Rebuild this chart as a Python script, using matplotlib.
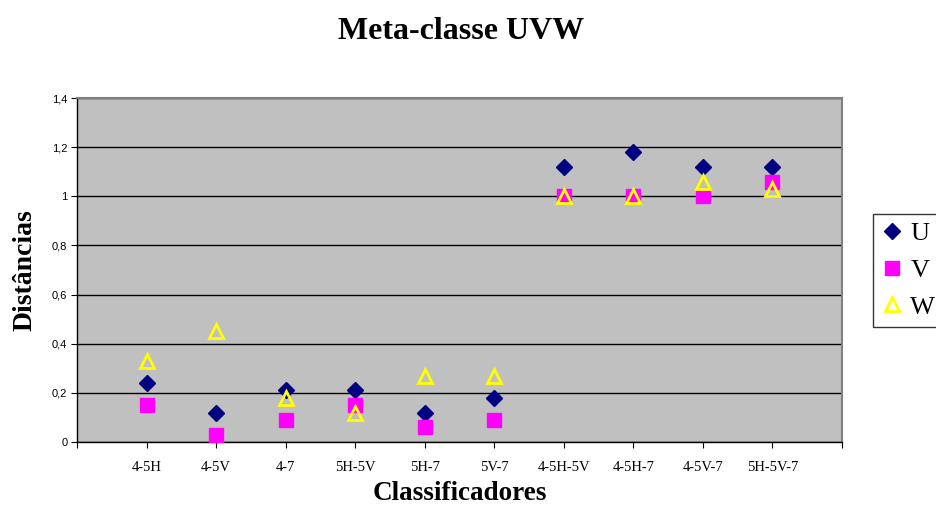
import matplotlib.pyplot as plt
import numpy as np

# data
categories = ['4-5H', '4-5V', '4-7', '5H-5V', '5H-7', '5V-7',
              '4-5H-5V', '4-5H-7', '4-5V-7', '5H-5V-7']
u_vals = [0.24, 0.12, 0.21, 0.21, 0.12, 0.18, 1.12, 1.18, 1.12, 1.12]
v_vals = [0.15, 0.03, 0.09, 0.15, 0.06, 0.09, 1.00, 1.00, 1.00, 1.06]
w_vals = [0.33, 0.45, 0.18, 0.12, 0.27, 0.27, 1.00, 1.00, 1.06, 1.03]
y_ticks = [0, 0.2, 0.4, 0.6, 0.8, 1.0, 1.2, 1.4]
y_labels = ['0', '0,2', '0,4', '0,6', '0,8', '1', '1,2', '1,4']

serif = 'Liberation Serif'
sans = 'Liberation Sans'

fig = plt.figure(figsize=(9.36, 5.08), dpi=100)
ax = fig.add_axes([0.0823, 0.1299, 0.8173, 0.6771])
ax.set_facecolor('#c0c0c0')

x = np.arange(1, len(categories) + 1)
ax.plot(x, u_vals, linestyle='none', marker='D', markersize=8.5,
        color='#000080', label='U', zorder=3)
ax.plot(x, v_vals, linestyle='none', marker='s', markersize=10.5,
        color='#ff00ff', label='V', zorder=3)
ax.plot(x, w_vals, linestyle='none', marker='^', markersize=10,
        markerfacecolor='none', markeredgecolor='#ffff00',
        markeredgewidth=2, label='W', zorder=4)

ax.set_xlim(0, 11)
ax.set_ylim(0, 1.4)
ax.set_yticks(y_ticks)
ax.set_yticklabels(y_labels, fontfamily=sans, fontsize=8)
ax.set_xticks(np.arange(0, 12))
ax.set_xticklabels([''] + categories + [''], fontfamily=serif, fontsize=10.5)
ax.tick_params(axis='x', length=4, pad=10, color='black')
ax.tick_params(axis='y', length=4, pad=3, color='black')

ax.yaxis.grid(True, color='black', linewidth=1)
ax.set_axisbelow(True)
for side in ['top', 'right']:
    ax.spines[side].set_color('#808080')
    ax.spines[side].set_linewidth(1.5)
for side in ['left', 'bottom']:
    ax.spines[side].set_color('black')
    ax.spines[side].set_linewidth(1)

fig.suptitle('Meta-classe UVW', fontfamily=serif, fontsize=23,
             fontweight='bold', x=0.493, y=0.966)
ax.set_ylabel('Distâncias', fontfamily=serif, fontsize=20,
              fontweight='bold', labelpad=10)
ax.set_xlabel('Classificadores', fontfamily=serif, fontsize=19.5,
              fontweight='bold', labelpad=5)

leg = fig.legend(loc='center left', bbox_to_anchor=(0.933, 0.468),
                 prop={'family': serif, 'size': 19}, frameon=True,
                 fancybox=False, edgecolor='black', handlelength=0.8,
                 handletextpad=0.3, borderpad=0.3, labelspacing=0.5,
                 borderaxespad=0)
leg.get_frame().set_linewidth(1)

fig.savefig('out.png', dpi=100)
